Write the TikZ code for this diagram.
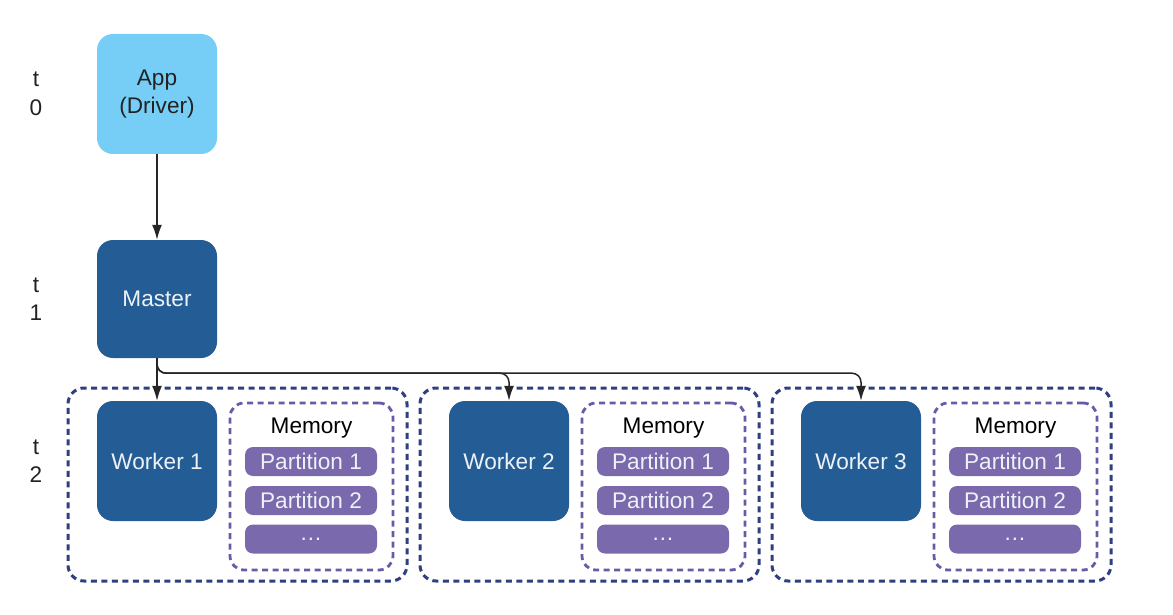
\documentclass[tikz,border=0pt]{standalone}
\usepackage{fontspec}
\setmainfont{Liberation Sans}
\usetikzlibrary{arrows.meta}
\definecolor{appblue}{HTML}{76CDF6}
\definecolor{nodeblue}{HTML}{245D96}
\definecolor{partpurple}{HTML}{7B69AD}
\definecolor{groupnavy}{HTML}{2F3F80}
\definecolor{mempurple}{HTML}{6A5AA6}
\definecolor{lighttext}{HTML}{EEF2F7}
\definecolor{darktext}{HTML}{222222}
\begin{document}
\begin{tikzpicture}[x=1pt,y=-1pt,
  txt/.style={font=\fontsize{22.6}{28.5}\selectfont},
  bigbox/.style={txt, rectangle, rounded corners=16pt, minimum width=120pt, minimum height=120pt, inner sep=0pt, align=center},
  appbox/.style={bigbox, fill=appblue, text=darktext},
  darkbox/.style={bigbox, fill=nodeblue, text=lighttext},
  group/.style={draw=groupnavy, line width=3pt, dash pattern=on 6pt off 4.5pt, rounded corners=16pt, minimum width=339pt, minimum height=193pt, inner sep=0pt},
  memory/.style={draw=mempurple, line width=2.8pt, dash pattern=on 6pt off 4.5pt, rounded corners=14pt, minimum width=163pt, minimum height=167pt, inner sep=0pt},
  part/.style={txt, fill=partpurple, text=lighttext, rounded corners=8pt, minimum width=132pt, minimum height=29pt, inner sep=0pt},
  steplabel/.style={txt, text=darktext, align=center},
  link/.style={draw=black!85, line width=1.5pt, -{Latex[length=15pt,width=10pt]}}
]
\useasboundingbox (0,0) rectangle (1173,615);

% time steps
\node[steplabel] (t0) at (36,94) {t\\0};
\node[steplabel] (t1) at (36,299) {t\\1};
\node[steplabel] (t2) at (36,461) {t\\2};

% driver and master
\node[appbox] (app) at (157,94) {App\\(Driver)};
\node[darkbox, minimum height=118pt] (master) at (157,299) {Master};

% worker groups
\foreach \i in {1,2,3} {
  \pgfmathsetmacro{\dx}{352*(\i-1)}
  \node[group] (g\i) at (237.5+\dx,484.5) {};
  \node[darkbox] (w\i) at (157+\dx,461) {Worker \i};
  \node[memory] (m\i) at (311.5+\dx,486.5) {};
  \node[txt, text=black] (ml\i) at (311.5+\dx,428) {Memory};
  \node[part] (p\i a) at (311+\dx,461.5) {Partition 1};
  \node[part] (p\i b) at (311+\dx,500.5) {Partition 2};
  \node[part] (p\i c) at (311+\dx,539) {\raisebox{-3pt}{\ldots}};
}

% connectors
\draw[link] (app.south) -- (master.north);
\draw[link] (master.south) -- (w1.north);
\draw[link, rounded corners=9pt] (master.south) -- ++(0,15) -| (w2.north);
\draw[link, rounded corners=9pt] (master.south) -- ++(0,15) -| (w3.north);
\end{tikzpicture}
\end{document}
